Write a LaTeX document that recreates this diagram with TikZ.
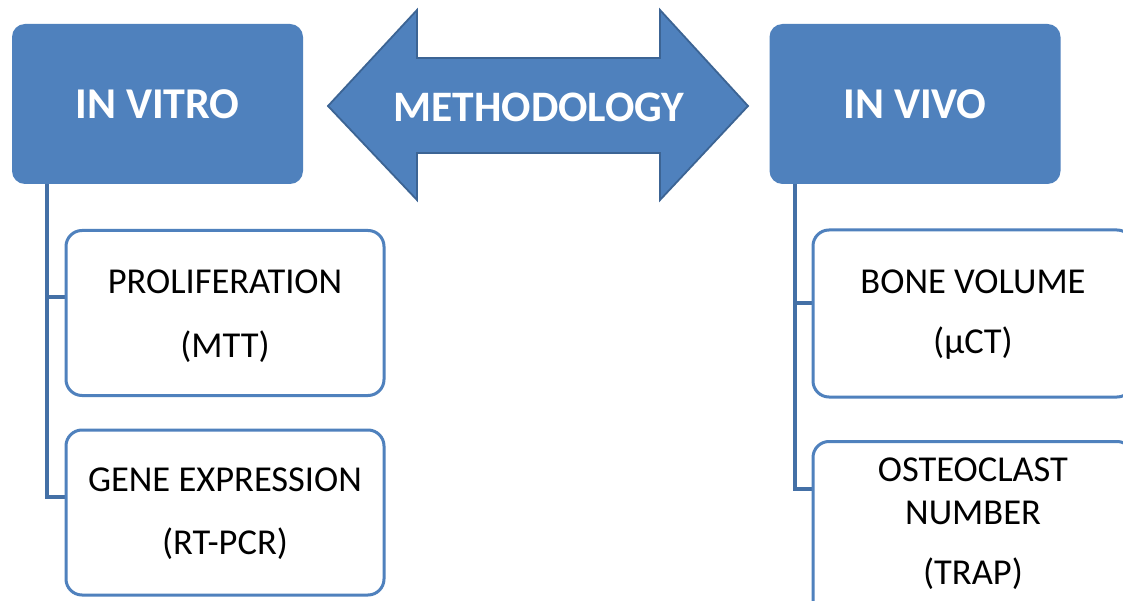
\documentclass[tikz,border=0pt]{standalone}
\usepackage{fontspec}
\setmainfont{Carlito}
\usetikzlibrary{backgrounds}
\definecolor{accent}{HTML}{4F81BD}
\definecolor{accentdark}{HTML}{3C6494}
\definecolor{linecol}{HTML}{4470A6}
\begin{document}
\begin{tikzpicture}[x=1pt,y=-1pt,
  headbox/.style={fill=accent,draw=none,rounded corners=13pt,minimum width=291pt,minimum height=160pt,inner sep=0pt,text=white,font=\fontsize{44}{53}\selectfont\bfseries},
  childbox/.style={fill=white,draw=accent,line width=3pt,rounded corners=16pt,minimum width=318pt,minimum height=165pt,inner sep=0pt,align=center,font=\fontsize{36.5}{44}\selectfont},
  conn/.style={draw=linecol,line width=3.2pt}]
\clip (0,0) rectangle (1123,601);
% arrow
\draw[fill=accent,draw=accentdark,line width=1.8pt,line join=miter]
  (328,106) -- (417,10) -- (417,58) -- (660,58) -- (660,10) -- (748,106)
  -- (660,200) -- (660,153) -- (417,153) -- (417,200) -- cycle;
\node[text=white,font=\fontsize{43.5}{52}\selectfont\bfseries] (method) at (539,107) {METHODOLOGY};
% head boxes
\node[headbox] (vitro) at (157.5,104) {IN VITRO};
\node[headbox] (vivo) at (915,104) {IN VIVO};
\coordinate (lstart) at (47,179);
\coordinate (rstart) at (795,178);
% child boxes
\node[childbox] (prolif) at (225,313) {};
\node[align=center,font=\fontsize{36.5}{44}\selectfont] (proliftext) at (225,316) {PROLIFERATION\\[20pt](MTT)};
\node[childbox] (gene) at (225,512.5) {};
\node[align=center,font=\fontsize{36.5}{44}\selectfont] (genetext) at (225,513.5) {GENE EXPRESSION\\[19pt](RT-PCR)};
\node[childbox,minimum width=320pt,minimum height=167pt] (bone) at (973,313.5) {};
\node[align=center,font=\fontsize{36.5}{44}\selectfont] (bonetext) at (973,314.5) {BONE VOLUME\\[16pt](\textmu CT)};
\node[childbox,minimum width=320pt,minimum height=200pt,anchor=north] (osteo) at (973,440) {};
\node[align=center,font=\fontsize{36.5}{43}\selectfont] (osteotext) at (973,524) {OSTEOCLAST\\NUMBER\\[17pt](TRAP)};
% connectors
\begin{scope}[on background layer]
\fill[white] (0,0) rectangle (1123,601);
\draw[conn] (lstart) |- ([yshift=16pt]prolif.west);
\draw[conn] (lstart) |- ([yshift=15.5pt]gene.west);
\draw[conn] (rstart) |- ([yshift=10.5pt]bone.west);
\draw[conn] (rstart) |- ([yshift=-49pt]osteo.north west);
\end{scope}
\end{tikzpicture}
\end{document}
